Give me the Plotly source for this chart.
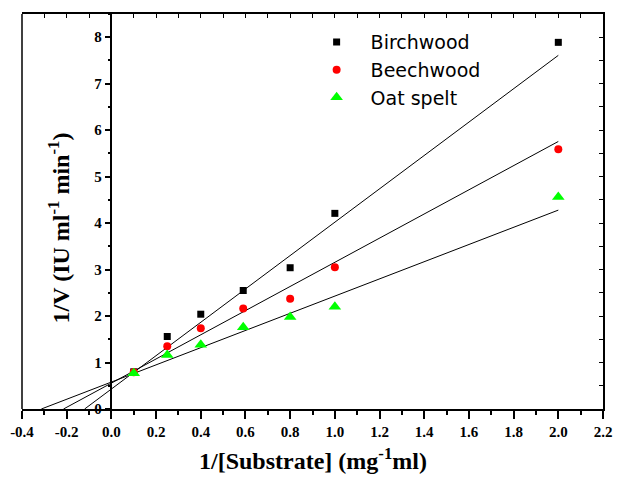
import plotly.graph_objects as go
import numpy as np

series_names = ["Birchwood", "Beechwood", "Oat spelt"]
x_vals = [0.1, 0.25, 0.4, 0.59, 0.8, 1.0, 2.0]
birch_y = [0.80, 1.56, 2.04, 2.55, 3.04, 4.21, 7.89]
beech_y = [0.79, 1.35, 1.74, 2.16, 2.37, 3.05, 5.59]
oat_y = [0.77, 1.16, 1.38, 1.76, 1.98, 2.20, 4.56]
fit_slope = [3.59, 2.60, 1.85]
fit_intercept = [0.43, 0.557, 0.58]
fit_x_end = 2.0
x_ticks = [-0.4, -0.2, 0.0, 0.2, 0.4, 0.6, 0.8, 1.0, 1.2, 1.4, 1.6, 1.8, 2.0, 2.2]
y_ticks = [0, 1, 2, 3, 4, 5, 6, 7, 8]

colors = ["#000000", "#ff0000", "#00ff00"]
symbols = ["square", "circle", "triangle-up"]
sizes = [7, 8, 11]
ys = [birch_y, beech_y, oat_y]

fig = go.Figure()
# fit lines from x-intercept to end
for s, b in zip(fit_slope, fit_intercept):
    x0 = -b / s
    xs = np.linspace(x0, fit_x_end, 50)
    fig.add_trace(go.Scatter(x=xs, y=s * xs + b, mode="lines",
                             line=dict(color="black", width=1),
                             showlegend=False, hoverinfo="skip"))
for name, y, c, sym, sz in zip(series_names, ys, colors, symbols, sizes):
    fig.add_trace(go.Scatter(x=x_vals, y=y, mode="markers", name=name,
                             marker=dict(color=c, symbol=sym, size=sz, line=dict(width=0))))
# dummy trace for mirror axes
fig.add_trace(go.Scatter(x=[0], y=[0], xaxis="x2", yaxis="y2", mode="markers",
                         marker=dict(opacity=0), showlegend=False, hoverinfo="skip"))

xr = [-0.4, 2.2]
yr = [0, 8.5]
tickfont = dict(family="Liberation Serif", size=15, color="black")

fig.update_layout(
    width=622, height=477,
    margin=dict(l=22, r=10, t=14, b=68),
    plot_bgcolor="white", paper_bgcolor="white",
    showlegend=True,
    legend=dict(x=0.483, y=0.977, xanchor="left", yanchor="top", itemwidth=58,
                font=dict(family="DejaVu Sans", size=19, color="black"),
                bgcolor="rgba(0,0,0,0)", tracegroupgap=0),
    xaxis=dict(range=xr, tickvals=x_ticks, ticktext=["<b>%.1f</b>" % v for v in x_ticks],
               showline=True, linecolor="black", linewidth=1.5,
               ticks="outside", ticklen=8, tickwidth=1.5, tickcolor="black",
               minor=dict(dtick=0.1, tick0=0, ticks="outside", ticklen=4, tickwidth=1.5, tickcolor="black"),
               showgrid=False, zeroline=False, tickfont=tickfont),
    yaxis=dict(range=yr, tickvals=y_ticks, ticktext=["<b>%d</b>" % v for v in y_ticks],
               anchor="free", position=0.4 / 2.6,
               showline=True, linecolor="black", linewidth=1.5,
               ticks="outside", ticklen=6, tickwidth=1.5, tickcolor="black",
               minor=dict(dtick=0.5, tick0=0, ticks="outside", ticklen=3, tickwidth=1.5, tickcolor="black"),
               showgrid=False, zeroline=False, tickfont=tickfont),
    xaxis2=dict(range=xr, overlaying="x", side="top", anchor="y2",
                showline=True, linecolor="black", linewidth=1.5,
                dtick=0.1, tick0=0, ticks="inside", ticklen=4, tickwidth=1, tickcolor="black",
                showticklabels=False, showgrid=False, zeroline=False),
    yaxis2=dict(range=yr, overlaying="y", side="right", anchor="x2",
                showline=True, linecolor="black", linewidth=1.5,
                dtick=0.5, tick0=0, ticks="inside", ticklen=4, tickwidth=1, tickcolor="black",
                showticklabels=False, showgrid=False, zeroline=False),
    shapes=[dict(type="line", xref="paper", yref="paper", x0=0, x1=0, y0=0, y1=1,
                 line=dict(color="black", width=1.5))],
    annotations=[
        dict(text="<b>1/[Substrate] (mg<sup>-1</sup>ml)</b>", xref="paper", yref="paper",
             x=(318 - 22) / 590, y=-(459 - 409) / 395, xanchor="center", yanchor="middle",
             showarrow=False,
             font=dict(family="Liberation Serif", size=24, color="black")),
        dict(text="<b>1/V (IU ml<sup>-1</sup> min<sup>-1</sup>)</b>", xref="paper", yref="paper",
             x=(60 - 22) / 590, y=(409 - 228) / 395, xanchor="center", yanchor="middle",
             textangle=-90, showarrow=False,
             font=dict(family="Liberation Serif", size=24, color="black")),
    ],
)
fig.write_html("out.html")
